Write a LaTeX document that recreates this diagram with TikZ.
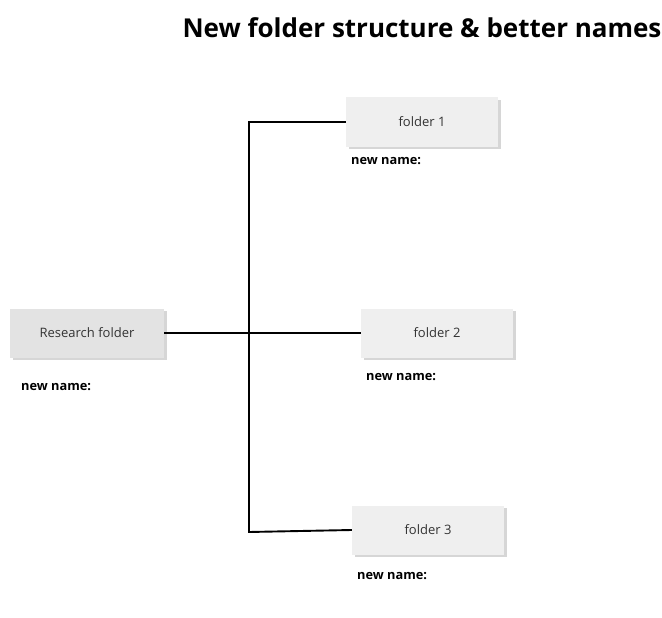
\documentclass[tikz,border=0pt]{standalone}
\usepackage{fontspec}
\setmainfont{Open Sans}
\definecolor{boxa}{HTML}{E3E3E3}
\definecolor{boxb}{HTML}{EFEFEF}
\definecolor{shad}{HTML}{D6D6D6}
\definecolor{txt}{HTML}{333333}
\begin{document}
\begin{tikzpicture}[x=1pt,y=-1pt,
  folderbox/.style={minimum width=152pt,minimum height=49pt,inner sep=0pt,
    text=txt,font=\fontsize{13}{15}\selectfont,
    preaction={fill=shad,transform canvas={shift={(2.5pt,-2.5pt)}}}},
  newname/.style={anchor=west,inner sep=0pt,font=\bfseries\fontsize{12.8}{15}\selectfont,text=black},
  link/.style={line width=1.9pt,black}]
\useasboundingbox (0,0) rectangle (662,618);
\node[anchor=center,inner sep=0pt,font=\bfseries\fontsize{26}{30}\selectfont] (title) at (422,28) {New folder structure \& better names};
\node[folderbox,fill=boxa,minimum width=154pt] (rf) at (87,333) {Research folder};
\node[folderbox,fill=boxb] (f1) at (422,122) {folder 1};
\node[folderbox,fill=boxb] (f2) at (437,333) {folder 2};
\node[folderbox,fill=boxb] (f3) at (428,530) {folder 3};
\node[newname] (n0) at (21,387.5) {new name:};
\node[newname] (n1) at (351,161.5) {new name:};
\node[newname] (n2) at (366,377.5) {new name:};
\node[newname] (n3) at (357,576.5) {new name:};
\coordinate (jt) at (249,122);
\coordinate (jm) at (249,333);
\coordinate (jb) at (249,532);
\draw[link] (rf.east) -- (jm);
\draw[link,line cap=rect] (jt) -- (jb);
\draw[link] (jt) -- (f1.west);
\draw[link] (jm) -- (f2.west);
\draw[link] (jb) -- (f3.west);
\end{tikzpicture}
\end{document}
